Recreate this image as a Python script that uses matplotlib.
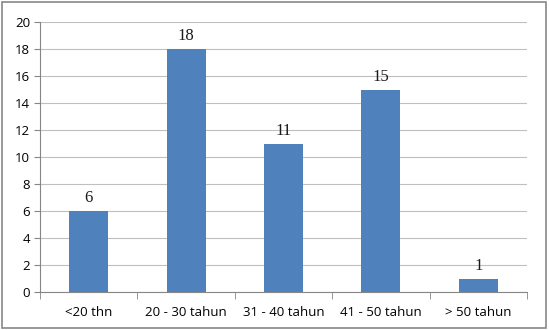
import matplotlib
matplotlib.use("Agg")
import matplotlib.pyplot as plt
from matplotlib.patches import Rectangle

categories = ["<20 thn", "20 - 30 tahun", "31 - 40 tahun", "41 - 50 tahun", "> 50 tahun"]
values = [6, 18, 11, 15, 1]
yticks = [0, 2, 4, 6, 8, 10, 12, 14, 16, 18, 20]

fig = plt.figure(figsize=(5.49, 3.30), dpi=100)
ax = fig.add_axes([40/549, 1-292/330, (527-40)/549, (292-22)/330])

x = list(range(len(categories)))
bars = ax.bar(x, values, width=0.4, color="#4F81BD", zorder=3)
for xi, v in zip(x, values):
    ax.text(xi, v + 0.35, str(v), ha="center", va="bottom",
            fontfamily="Liberation Serif", fontsize=12, color="#1a1a1a")

ax.set_xlim(-0.5, len(categories) - 0.5)
ax.set_ylim(0, 20)
ax.set_yticks(yticks)
ax.set_yticklabels([str(t) for t in yticks], fontfamily="Open Sans", fontsize=9.5)
ax.set_xticks(x)
ax.set_xticklabels(categories, fontfamily="Open Sans", fontsize=9.5)
ax.tick_params(axis="x", length=0, pad=10)
ax.tick_params(axis="y", length=4, color="#868686", pad=3, direction="out")
ax.set_xticks([i - 0.5 for i in range(len(categories) + 1)], minor=True)
ax.tick_params(axis="x", which="minor", length=5, color="#868686", direction="out")
ax.grid(axis="y", color="#BFBFBF", linewidth=0.8, zorder=0)
for s in ["top", "right"]:
    ax.spines[s].set_visible(False)
for s in ["left", "bottom"]:
    ax.spines[s].set_color("#868686")
    ax.spines[s].set_linewidth(0.8)

fig.patches.append(Rectangle((2/549, 2/330), 544/549, 326/330, transform=fig.transFigure,
                             fill=False, edgecolor="#888888", linewidth=1.2))
fig.savefig("out.png", dpi=100)
